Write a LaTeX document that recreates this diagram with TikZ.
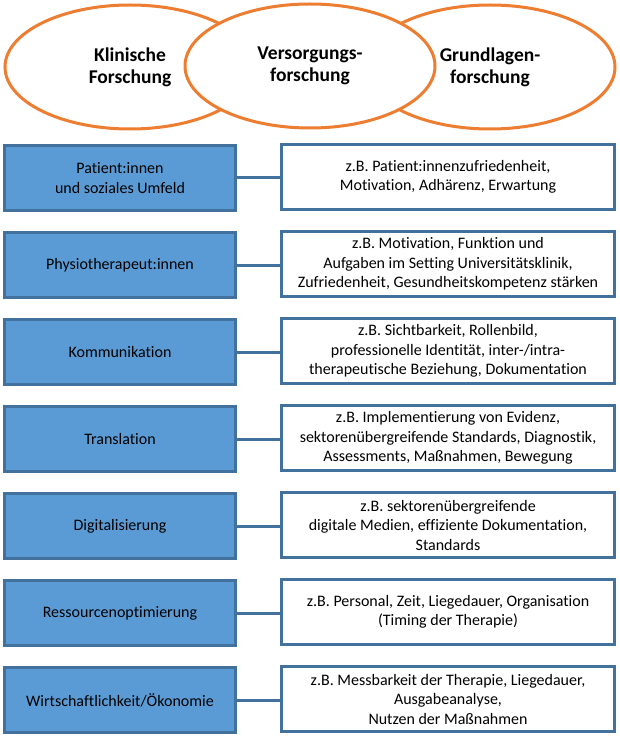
\documentclass[tikz,border=0pt]{standalone}
\usepackage{fontspec}
\setmainfont{Carlito}[Ligatures={NoCommon}]
\usetikzlibrary{shapes.geometric}
\definecolor{boxblue}{HTML}{5B9BD5}
\definecolor{edgeblue}{HTML}{41719C}
\definecolor{ringorange}{HTML}{ED7D31}
\tikzset{
  ring/.style={ellipse, draw=ringorange, line width=3pt, fill=white,
    minimum width=250pt, minimum height=124pt, inner sep=0pt, align=center,
    font=\bfseries\fontsize{19.5}{22}\selectfont},
  topicbox/.style={rectangle, draw=edgeblue, line width=3pt, fill=boxblue,
    minimum width=231pt, minimum height=65pt, inner sep=0pt, align=center,
    font=\fontsize{16}{19.5}\selectfont},
  detailbox/.style={rectangle, draw=edgeblue, line width=3pt, fill=white,
    minimum width=333pt, minimum height=65pt, inner sep=0pt, align=center,
    font=\fontsize{16}{19.5}\selectfont},
  link/.style={draw=edgeblue, line width=3pt}
}
\begin{document}
\begin{tikzpicture}[x=1pt,y=-1pt]
\useasboundingbox (0,0) rectangle (620,738);
\fill[white] (0,0) rectangle (620,738);
% ellipses
\node[ring] (klin) at (130,67) {Klinische\\Forschung};
\node[ring] (grund) at (490,67) {Grundlagen-\\forschung};
\node[ring] (vers) at (310,66) {Versorgungs-\\forschung};
% rows
\foreach \i/\name/\lt/\rt in {
  1/pat/{Patient:innen\\und soziales Umfeld}/{z.B. Patient:innenzufriedenheit,\\Motivation, Adhärenz, Erwartung},
  2/phys/{Physiotherapeut:innen}/{z.B. Motivation, Funktion und\\Aufgaben im Setting Universitätsklinik,\\Zufriedenheit, Gesundheitskompetenz stärken},
  3/komm/{Kommunikation}/{z.B. Sichtbarkeit, Rollenbild,\\professionelle Identität, inter-/intra-\\therapeutische Beziehung, Dokumentation},
  4/trans/{Translation}/{z.B. Implementierung von Evidenz,\\sektorenübergreifende Standards, Diagnostik,\\Assessments, Maßnahmen, Bewegung},
  5/dig/{Digitalisierung}/{z.B. sektorenübergreifende\\digitale Medien, effiziente Dokumentation,\\Standards},
  6/ress/{Ressourcenoptimierung}/{z.B. Personal, Zeit, Liegedauer, Organisation\\(Timing der Therapie)},
  7/wirt/{Wirtschaftlichkeit/Ökonomie}/{z.B. Messbarkeit der Therapie, Liegedauer,\\Ausgabeanalyse,\\Nutzen der Maßnahmen}}
{
  \node[topicbox] (\name L) at (120,{178+87*(\i-1)}) {\lt};
  \node[detailbox] (\name R) at (448,{177+87*(\i-1)}) {\rt};
  \draw[link] (\name L.east) -- (\name R.west |- \name L.east);
}
\end{tikzpicture}
\end{document}
